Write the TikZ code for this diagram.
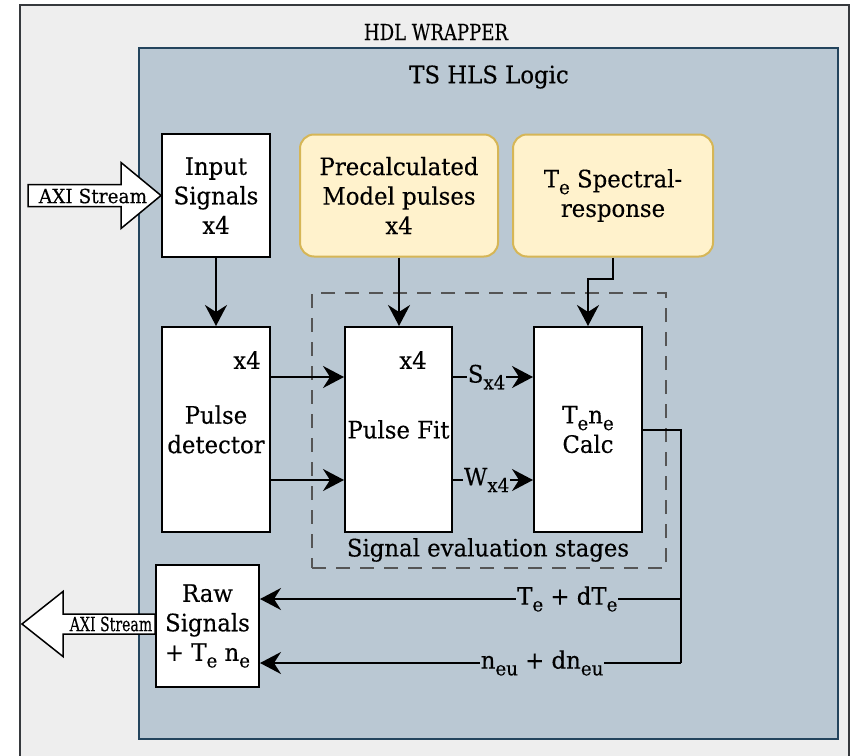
\documentclass[tikz,border=0pt]{standalone}
\usepackage{fontspec}
\setmainfont{DejaVu Serif}[FakeStretch=0.95,FakeBold=0.3]
\newfontfamily\narrowserif{DejaVu Serif}[FakeStretch=0.82,FakeBold=0.3]
\usepackage{graphicx}
\usetikzlibrary{arrows.meta,calc}
\definecolor{wrapfill}{HTML}{EEEEEE}
\definecolor{wrapline}{HTML}{36393D}
\definecolor{logicfill}{HTML}{BAC8D3}
\definecolor{logicline}{HTML}{23445D}
\definecolor{notefill}{HTML}{FFF2CC}
\definecolor{noteline}{HTML}{D6B656}
\definecolor{stageline}{HTML}{555555}
% lowered, slightly reduced index letters
\newcommand{\lowsub}[1]{\raisebox{-0.28em}{\scalebox{0.8}{#1}}}

\begin{document}
\begin{tikzpicture}[x=1pt,y=-1pt,
  txt/.style={font=\fontsize{24}{29.5}\selectfont, align=center},
  blockbox/.style={draw=black, fill=white, line width=2pt, minimum width=108pt, txt, inner sep=0pt},
  notebox/.style={draw=noteline, fill=notefill, line width=2pt, rounded corners=14pt,
                  minimum width=198pt, minimum height=122pt, txt, inner sep=0pt},
  flow/.style={line width=2pt, -{Stealth[length=21pt,width=22pt,inset=7pt]}},
  wire/.style={line width=2pt},
  fat/.style={draw=black, fill=white, line width=1.5pt},
  onwire/.style={fill=logicfill, inner sep=1pt, font=\fontsize{24}{26}\selectfont},
  smalltxt/.style={font=\fontsize{19.5}{22}\selectfont, inner sep=0pt},
]
\useasboundingbox (0,0) rectangle (854,755);

% containers
\node[draw=wrapline, fill=wrapfill, line width=2pt, minimum width=829pt, minimum height=755pt,
      inner sep=0pt] (hdl) at (434.5,382.5) {};
\node[font=\narrowserif\fontsize{22}{24}\selectfont, inner sep=0pt] (hdltitle) at (436,32) {HDL WRAPPER};
\node[draw=logicline, fill=logicfill, line width=2pt, minimum width=699pt, minimum height=691pt,
      inner sep=0pt] (hls) at (488.5,393.5) {};
\node[txt] (hlstitle) at (489,77) {TS HLS Logic};

% signal evaluation group
\node[draw=stageline, dash pattern=on 14pt off 10pt, line width=2pt, minimum width=354pt,
      minimum height=275pt, inner sep=0pt] (stages) at (489,430.5) {};
\node[txt] (stagestitle) at (488,550) {Signal evaluation stages};

% blocks
\node[blockbox, minimum height=123pt] (inp) at (216,195.5) {Input\\Signals\\x4};
\node[notebox] (pre) at (399,195.5) {Precalculated\\Model pulses\\x4};
\node[notebox, minimum width=200pt] (spec) at (613,195.5) {T\lowsub{e} Spectral-\\response};
\node[blockbox, minimum height=205pt] (det) at (216,429.5) {Pulse\\detector};
\node[blockbox, minimum width=107pt, minimum height=205pt] (fit) at (398.5,429.5) {Pulse Fit};
\node[blockbox, minimum height=205pt] (calc) at (588,429.5) {T\lowsub{e}n\lowsub{e}\\Calc};
\node[blockbox, minimum width=103pt, minimum height=122pt] (raw) at (207.5,626) {Raw\\Signals\\+ T\lowsub{e} n\lowsub{e}};

\node[txt] (detx) at (247,360) {x4};
\node[txt] (fitx) at (413,360) {x4};

% AXI stream ports
\draw[fat] (inp.west) -- ++(-40,-33) -- ++(0,22) -- ++(-93,0) -- ++(0,22) -- ++(93,0) -- ++(0,22) -- cycle;
\node[smalltxt] (axiin) at (93,196) {AXI Stream};
\draw[fat] ($(raw.west)+(0,-12)$) -- ++(-92,0) -- ++(0,-22.5) -- ++(-41,32.5) -- ++(41,32.5)
           -- ++(0,-22.5) -- ++(92,0) -- cycle;
\node[smalltxt] (axiout) at (111,624) {\scalebox{0.76}[1]{AXI Stream}};

% data flow
\draw[flow] (inp) -- (det);
\draw[flow] (pre.south) -- (pre.south |- fit.north);
\draw[flow] (spec.south) -- ++(0,21) -| (calc.north);
\draw[flow] ($(det.north east)+(0,51)$) -- ($(fit.north west)+(0,51)$);
\draw[flow] ($(det.north east)+(0,154)$) -- ($(fit.north west)+(0,154)$);
\draw[flow] ($(fit.north east)+(0,51)$) -- node[onwire, pos=0.42] {S\lowsub{x4}} ($(calc.north west)+(0,51)$);
\draw[flow] ($(fit.north east)+(0,154)$) -- node[onwire, pos=0.42] {W\lowsub{x4}} ($(calc.north west)+(0,154)$);

% results back to the output block
\coordinate (tap1) at (681,599);
\coordinate (tap2) at (681,663);
\draw[wire] (calc.east) -| (tap2);
\draw[flow] (tap1) -- node[onwire, pos=0.27] {T\lowsub{e} + dT\lowsub{e}} (tap1 -| raw.east);
\draw[flow] (tap2) -- node[onwire, pos=0.33] {n\lowsub{eu} + dn\lowsub{eu}} (tap2 -| raw.east);
\end{tikzpicture}
\end{document}
